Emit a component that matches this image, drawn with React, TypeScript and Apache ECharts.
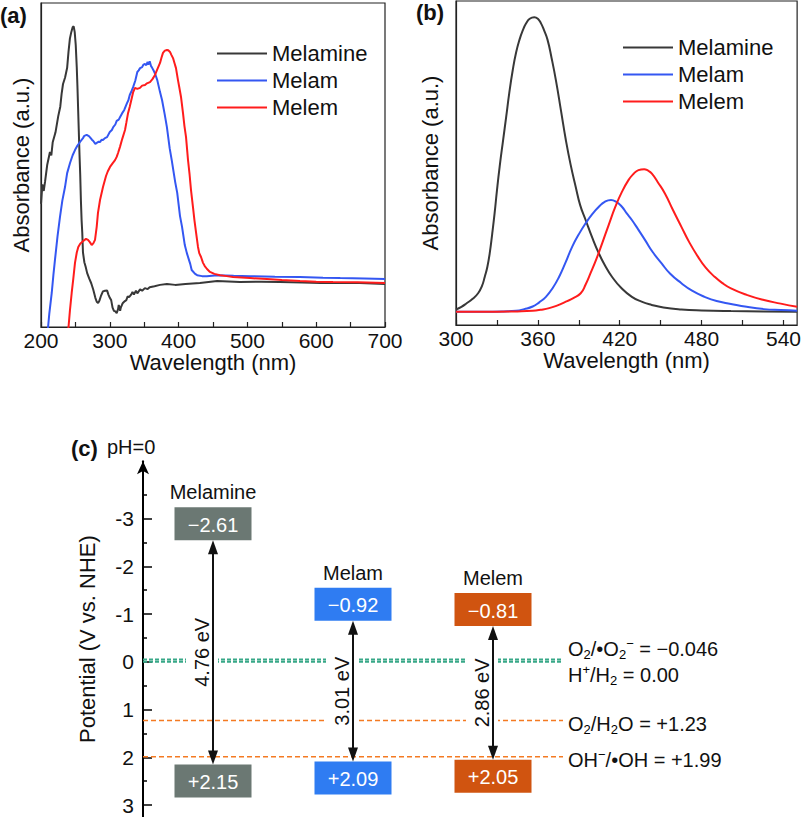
import React, { useEffect, useRef } from 'react';
import * as echarts from 'echarts';

const FONT = '"Liberation Sans", Arial, Helvetica, sans-serif';

// ---------- (a) UV-Vis absorbance (wavelength nm, absorbance a.u.) ----------
const absMelamineA: [number, number][] = [
  [200, 0.38], [202, 0.44], [204, 0.42], [206, 0.45], [209, 0.5], [213, 0.54], [215, 0.53], [217, 0.57],
  [221, 0.6], [225, 0.65], [228, 0.68], [230, 0.72], [232, 0.75], [235, 0.77], [238, 0.8], [240, 0.85],
  [242, 0.89], [244, 0.91], [246, 0.925], [247.5, 0.928], [249, 0.91], [250.5, 0.87], [252, 0.8], [253, 0.74],
  [254, 0.67], [255, 0.6], [256, 0.53], [257, 0.47], [258, 0.39], [259, 0.33], [260, 0.29], [261, 0.23],
  [263, 0.2], [265, 0.185], [267, 0.167], [270, 0.15], [273, 0.135], [276, 0.115], [279, 0.09], [281, 0.078],
  [283, 0.074], [285, 0.082], [287, 0.095], [290, 0.11], [293, 0.112], [296, 0.113], [298, 0.1], [300, 0.09],
  [302, 0.083], [304, 0.06], [306, 0.05], [308, 0.048], [310, 0.043], [312, 0.055], [313, 0.068], [315, 0.05],
  [316, 0.06], [318, 0.07], [319, 0.074], [322, 0.08], [324, 0.083], [326, 0.095], [328, 0.092], [331, 0.1],
  [333, 0.108], [335, 0.1], [338, 0.112], [340, 0.104], [344, 0.116], [347, 0.112], [351, 0.12], [355, 0.117],
  [358, 0.123], [365, 0.126], [373, 0.13], [383, 0.133], [395, 0.13], [410, 0.133], [431, 0.136], [456, 0.142],
  [489, 0.139], [520, 0.14], [547, 0.139], [580, 0.137], [606, 0.136], [640, 0.136], [663, 0.136], [700, 0.133],
];
const absMelamA: [number, number][] = [
  [209, -0.03], [212, 0.04], [215.6, 0.105], [218, 0.16], [220.3, 0.207], [224, 0.28], [227.6, 0.34], [231, 0.39],
  [234.9, 0.432], [238, 0.475], [242.2, 0.506], [246, 0.53], [249.4, 0.546], [253, 0.56], [256.7, 0.571], [261, 0.583],
  [263, 0.59], [266.4, 0.593], [269, 0.59], [271, 0.586], [274, 0.578], [276, 0.574], [279, 0.565], [281, 0.568],
  [284, 0.572], [286, 0.571], [288, 0.578], [290, 0.577], [293, 0.583], [296, 0.586], [300, 0.602], [303, 0.608],
  [305, 0.617], [308, 0.625], [310, 0.636], [313, 0.64], [315, 0.648], [318, 0.66], [321, 0.67], [325, 0.691],
  [327, 0.7], [329, 0.716], [332, 0.73], [334, 0.741], [337, 0.76], [340, 0.787], [342, 0.792], [344, 0.799],
  [347, 0.802], [349, 0.81], [351, 0.812], [353, 0.808], [355, 0.818], [356, 0.81], [358, 0.82], [360, 0.805],
  [361, 0.802], [364, 0.79], [366, 0.781], [369, 0.762], [373, 0.725], [376, 0.7], [380, 0.654], [383, 0.617],
  [387, 0.552], [390, 0.515], [395, 0.448], [398, 0.414], [402, 0.343], [405, 0.309], [409, 0.253], [412, 0.228],
  [417, 0.194], [419, 0.176], [424, 0.164], [427, 0.16], [434, 0.157], [441, 0.157], [456, 0.16], [480, 0.158],
  [504, 0.157], [540, 0.155], [576, 0.154], [610, 0.152], [635, 0.151], [670, 0.15], [700, 0.148],
];
const absMelemA: [number, number][] = [
  [239, -0.02], [240, 0], [242, 0.05], [244.6, 0.105], [247, 0.15], [249.4, 0.198], [252, 0.23], [254.2, 0.247],
  [257, 0.257], [261, 0.265], [265.4, 0.272], [268.3, 0.269], [271, 0.262], [273.7, 0.253], [276, 0.258], [278.5, 0.269],
  [281, 0.31], [282.8, 0.352], [285.8, 0.392], [290.1, 0.432], [294.5, 0.466], [297, 0.48], [300.3, 0.494], [304, 0.505],
  [307.6, 0.515], [310, 0.525], [312, 0.537], [314.8, 0.556], [318, 0.58], [322.1, 0.608], [324, 0.63], [326.5, 0.66],
  [329, 0.68], [332.3, 0.71], [334, 0.725], [336.6, 0.738], [340, 0.735], [343.9, 0.738], [347, 0.745], [351.2, 0.747],
  [354, 0.752], [358.4, 0.756], [362, 0.765], [365.7, 0.778], [369, 0.795], [373, 0.815], [375, 0.83], [377.3, 0.846],
  [380, 0.853], [383.1, 0.855], [385, 0.854], [387.5, 0.849], [389.5, 0.84], [391.9, 0.83], [394, 0.815], [396.2, 0.799],
  [399.1, 0.762], [401, 0.74], [403.5, 0.71], [406.4, 0.66], [408.5, 0.62], [410.8, 0.586], [413.7, 0.515], [416, 0.47],
  [418, 0.423], [420.9, 0.37], [423, 0.33], [425.3, 0.293], [428.2, 0.247], [430, 0.228], [432.6, 0.216], [435.5, 0.198],
  [438, 0.188], [441.3, 0.179], [445.6, 0.17], [452, 0.164], [460.2, 0.16], [470, 0.157], [479.1, 0.154], [503.8, 0.151],
  [528.5, 0.148], [550, 0.145], [576.5, 0.142], [600, 0.14], [624.4, 0.139], [660, 0.138], [700, 0.136],
];

// ---------- (b) absorbance (wavelength nm, a.u.) ----------
const absMelamineB: [number, number][] = [
  [300, 0.048], [304, 0.056], [307.8, 0.067], [312, 0.08], [316.2, 0.098], [319, 0.12], [321.1, 0.149], [323, 0.18],
  [324.7, 0.221], [326.5, 0.28], [328.3, 0.345], [330, 0.415], [332, 0.489], [334.5, 0.57], [336.8, 0.643], [339, 0.715],
  [341.6, 0.787], [344, 0.84], [346.5, 0.88], [349, 0.91], [351.4, 0.931], [354, 0.945], [357.4, 0.95], [360, 0.945],
  [362.3, 0.931], [364.5, 0.91], [367.1, 0.88], [370, 0.825], [373.2, 0.756], [377, 0.66], [380.5, 0.571], [384, 0.495],
  [387.7, 0.427], [391, 0.37], [395, 0.324], [400, 0.268], [404.7, 0.221], [409, 0.185], [414.3, 0.149], [421, 0.115],
  [428.9, 0.087], [436, 0.072], [443.4, 0.062], [452, 0.054], [465.2, 0.048], [480, 0.045], [501.5, 0.043], [525, 0.042],
  [550, 0.041],
];
const absMelamB: [number, number][] = [
  [300, 0.041], [320, 0.041], [335, 0.042], [344, 0.044], [350, 0.049], [356.2, 0.057], [361, 0.07], [365.9, 0.087],
  [371, 0.115], [375.6, 0.149], [380, 0.19], [385.2, 0.242], [390, 0.28], [395, 0.314], [400, 0.343], [404.7, 0.365],
  [409, 0.38], [413.6, 0.386], [417.5, 0.38], [421.6, 0.365], [425, 0.345], [428.9, 0.324], [433.5, 0.295], [438.6, 0.262],
  [444, 0.226], [450.7, 0.19], [457, 0.158], [465.2, 0.129], [473, 0.106], [482.2, 0.087], [491, 0.074], [501.5, 0.065],
  [513, 0.056], [525.7, 0.049], [538, 0.046], [550, 0.044],
];
const absMelemB: [number, number][] = [
  [300, 0.041], [330, 0.041], [345, 0.042], [356.2, 0.044], [362, 0.047], [368.3, 0.052], [374, 0.06], [380.5, 0.072],
  [386, 0.083], [391.4, 0.098], [395, 0.125], [398.6, 0.16], [403, 0.205], [407.1, 0.252], [412, 0.31], [416.8, 0.365],
  [421.5, 0.41], [426.5, 0.448], [430, 0.466], [433.7, 0.478], [437.9, 0.481], [440.5, 0.477], [443.4, 0.468], [448, 0.44],
  [453.1, 0.406], [459, 0.355], [465.2, 0.303], [471, 0.255], [477.3, 0.211], [483, 0.177], [489.5, 0.149], [495, 0.13],
  [501.5, 0.113], [513, 0.093], [525.7, 0.077], [538, 0.066], [550, 0.056],
];

const seriesNames = ['Melamine', 'Melam', 'Melem'];
const ticksA = [200, 250, 300, 350, 400, 450, 500, 550, 600, 650, 700];
const labelsA = [200, 300, 400, 500, 600, 700];
const ticksB = [300, 330, 360, 390, 420, 450, 480, 510, 540];
const labelsB = [300, 360, 420, 480, 540];

// ---------- (c) band positions ----------
const materials = ['Melamine', 'Melam', 'Melem'];
const cbPotential = [-2.61, -0.92, -0.81];
const vbPotential = [2.15, 2.09, 2.05];
const bandGapEV = [4.76, 3.01, 2.86];
const redoxCouples = ['O{s|2}/•O{s|2}{p|−}', 'H{p|+}/H{s|2}', 'O{s|2}/H{s|2}O', 'OH{p|−}/•OH'];
const redoxPotential = [-0.046, 0, 1.23, 1.99];
const redoxDecimals = [3, 2, 2, 2];
const potentialTicks = [-3, -2, -1, 0, 1, 2, 3];
const potentialMinorTicks = [-3.5, -2.5, -1.5, -0.5, 0.5, 1.5, 2.5];

// ---------- styles ----------
const lineColors = ['#383838', '#3457f2', '#ff1c1c'];
const boxColors = ['#6b7873', '#2f7cf2', '#d05410'];
const redoxColors = ['#38a888', '#38a888', '#f47a22', '#f47a22'];
const redoxWidths = [2, 2, 1.6, 1.6];
const redoxDashes = [[4, 2], [4, 2], [5, 3], [5, 3]];
const redoxLabelDy = [-11, 13, 3, 3];

const signed = (v: number, d: number) =>
  v < 0 ? '−' + Math.abs(v).toFixed(d) : v > 0 ? '+' + v.toFixed(d) : v.toFixed(d);

const richSubSup = {
  s: { fontSize: 13, lineHeight: 14, verticalAlign: 'bottom', fontFamily: FONT, fill: '#000', color: '#000' },
  p: { fontSize: 13, lineHeight: 14, verticalAlign: 'top', fontFamily: FONT, fill: '#000', color: '#000' },
};

export default function App() {
  const ref = useRef<HTMLDivElement>(null);
  useEffect(() => {
    if (!ref.current) return;
    const chart = echarts.init(ref.current, undefined, { renderer: 'svg' });

    const frameAxisX = (gi: number, min: number, max: number, ticks: number[], labels: number[]) => ({
      gridIndex: gi,
      type: 'value',
      min,
      max,
      name: 'Wavelength (nm)',
      nameLocation: 'middle',
      nameGap: 22,
      nameTextStyle: { fontSize: 22, color: '#111', fontFamily: FONT },
      axisLine: { show: true, lineStyle: { color: '#222', width: 1.2 } },
      axisTick: { show: true, inside: true, length: 5, customValues: ticks, lineStyle: { color: '#222', width: 1.2 } },
      axisLabel: { customValues: labels, fontSize: 21, color: '#111', margin: 3, fontFamily: FONT },
      splitLine: { show: false },
    });
    const frameAxisY = (gi: number, gap: number) => ({
      gridIndex: gi,
      type: 'value',
      min: 0,
      max: 1,
      name: 'Absorbance (a.u.)',
      nameLocation: 'middle',
      nameGap: gap,
      nameTextStyle: { fontSize: 22, color: '#111', fontFamily: FONT },
      axisLine: { show: true, lineStyle: { color: '#222', width: 1.2 } },
      axisTick: { show: false },
      axisLabel: { show: false },
      splitLine: { show: false },
    });

    const lineSeries = (name: string, data: [number, number][], gi: number, color: string, smooth: boolean) => ({
      type: 'line',
      name,
      data,
      xAxisIndex: gi,
      yAxisIndex: gi,
      symbol: 'none',
      showSymbol: false,
      smooth,
      clip: true,
      lineStyle: { color, width: 2 },
      itemStyle: { color },
    });

    const legendBase = {
      orient: 'vertical',
      padding: 0,
      icon: 'rect',
      itemWidth: 50,
      itemHeight: 2,
      itemGap: 4,
      selectedMode: false,
      data: seriesNames,
      textStyle: { fontSize: 22, color: '#111', fontFamily: FONT, lineHeight: 23 },
    };

    const option: any = {
      animation: false,
      backgroundColor: '#fff',
      textStyle: { fontFamily: FONT },
      grid: [
        { left: 41, top: 3, width: 344, height: 324, show: true, borderColor: '#222', borderWidth: 1.2 },
        { left: 456, top: 1, width: 344, height: 324, show: true, borderColor: '#222', borderWidth: 1.2 },
        { left: 143, top: 461.2, width: 420, height: 356.2 },
      ],
      xAxis: [
        frameAxisX(0, 200, 700, ticksA, labelsA),
        frameAxisX(1, 300, 550, ticksB, labelsB),
        { gridIndex: 2, type: 'category', data: materials, show: false, boundaryGap: true },
      ],
      yAxis: [
        frameAxisY(0, 9),
        frameAxisY(1, 15),
        {
          gridIndex: 2,
          type: 'value',
          position: 'left',
          inverse: true,
          min: -4.2,
          max: 3.25,
          name: 'Potential (V vs. NHE)',
          nameLocation: 'middle',
          nameGap: 45,
          nameTextStyle: { fontSize: 22, color: '#111', fontFamily: FONT },
          axisLine: { show: true, onZero: false, lineStyle: { color: '#000', width: 2 }, symbol: ['none', 'arrow'], symbolSize: [9, 13] },
          axisTick: { show: true, inside: true, length: 9, customValues: potentialTicks, lineStyle: { color: '#000', width: 1.5 } },
          axisLabel: { customValues: potentialTicks, fontSize: 21, color: '#111', margin: 9, fontFamily: FONT },
          splitLine: { show: false },
        },
        {
          gridIndex: 2,
          type: 'value',
          position: 'left',
          inverse: true,
          min: -4.2,
          max: 3.25,
          axisLine: { show: false, onZero: false },
          axisTick: { show: true, inside: true, length: 4, customValues: potentialMinorTicks, lineStyle: { color: '#000', width: 1.5 } },
          axisLabel: { show: false },
          splitLine: { show: false },
        },
      ],
      legend: [
        { ...legendBase, left: 217, top: 42 },
        { ...legendBase, left: 623, top: 36 },
      ],
      graphic: [
        { type: 'text', x: 0, y: 15, style: { text: '(a)', font: `bold 22px ${FONT}`, fill: '#111', textVerticalAlign: 'middle', verticalAlign: 'middle' } },
        { type: 'text', x: 416, y: 12, style: { text: '(b)', font: `bold 22px ${FONT}`, fill: '#111', textVerticalAlign: 'middle', verticalAlign: 'middle' } },
        { type: 'text', x: 71, y: 448, style: { text: '(c)', font: `bold 22px ${FONT}`, fill: '#111', textVerticalAlign: 'middle', verticalAlign: 'middle' } },
        { type: 'text', x: 107, y: 447, style: { text: 'pH=0', font: `20px ${FONT}`, fill: '#111', textVerticalAlign: 'middle', verticalAlign: 'middle' } },
      ],
      series: [
        lineSeries('Melamine', absMelamineA, 0, lineColors[0], false),
        lineSeries('Melam', absMelamA, 0, lineColors[1], false),
        lineSeries('Melem', absMelemA, 0, lineColors[2], false),
        lineSeries('Melamine', absMelamineB, 1, lineColors[0], true),
        lineSeries('Melam', absMelamB, 1, lineColors[1], true),
        lineSeries('Melem', absMelemB, 1, lineColors[2], true),
        {
          type: 'custom',
          name: 'redox',
          xAxisIndex: 2,
          yAxisIndex: 2,
          z: 1,
          clip: false,
          data: redoxPotential.map((p) => [0, p]),
          encode: { x: 0, y: 1 },
          renderItem: (params: any, api: any) => {
            const i = params.dataIndex;
            const pot = api.value(1);
            const y = api.coord([0, pot])[1];
            const cs = params.coordSys;
            const x0 = cs.x;
            const x1 = cs.x + cs.width;
            return {
              type: 'group',
              children: [
                {
                  type: 'line',
                  shape: { x1: x0, y1: y, x2: x1, y2: y },
                  style: { stroke: redoxColors[i], lineWidth: redoxWidths[i], lineDash: redoxDashes[i] },
                },
                {
                  type: 'text',
                  x: x1 + 5,
                  y: y + redoxLabelDy[i],
                  style: {
                    text: redoxCouples[i] + ' = ' + signed(redoxPotential[i], redoxDecimals[i]),
                    rich: richSubSup,
                    fontSize: 20,
                    lineHeight: 24,
                    fontFamily: FONT,
                    fill: '#111',
                    align: 'left',
                    textAlign: 'left',
                    verticalAlign: 'middle',
                    textVerticalAlign: 'middle',
                  },
                },
              ],
            };
          },
        },
        {
          type: 'custom',
          name: 'bands',
          xAxisIndex: 2,
          yAxisIndex: 2,
          z: 3,
          clip: false,
          data: materials.map((m, i) => [i, cbPotential[i], vbPotential[i], bandGapEV[i]]),
          encode: { x: 0, y: [1, 2] },
          renderItem: (params: any, api: any) => {
            const i = params.dataIndex;
            const cb = api.value(1);
            const vb = api.value(2);
            const eg = api.value(3);
            const [cx, cbY] = api.coord([i, cb]);
            const vbY = api.coord([i, vb])[1];
            const bw = api.size([1, 0])[0] * 0.55;
            const h = 33;
            const top1 = cbY - 30;
            const bot1 = cbY + 3;
            const mid = (bot1 + vbY) / 2;
            const color = boxColors[i];
            const txt = (text: string, x: number, y: number, fill: string) => ({
              type: 'text',
              x,
              y,
              style: {
                text,
                fontSize: 20,
                fontFamily: FONT,
                fill,
                align: 'center',
                textAlign: 'center',
                verticalAlign: 'middle',
                textVerticalAlign: 'middle',
              },
            });
            return {
              type: 'group',
              children: [
                {
                  type: 'text',
                  x: cx - 11,
                  y: mid,
                  rotation: Math.PI / 2,
                  style: {
                    text: eg.toFixed(2) + ' eV',
                    fontSize: 20,
                    fontFamily: FONT,
                    fill: '#111',
                    align: 'center',
                    textAlign: 'center',
                    verticalAlign: 'middle',
                    textVerticalAlign: 'middle',
                    backgroundColor: '#fff',
                    padding: [6, 3],
                  },
                },
                { type: 'rect', shape: { x: cx - bw / 2, y: top1, width: bw, height: h }, style: { fill: color } },
                txt(signed(cb, 2), cx, top1 + h / 2 + 1, '#fff'),
                { type: 'rect', shape: { x: cx - bw / 2, y: vbY, width: bw, height: h }, style: { fill: color } },
                txt(signed(vb, 2), cx, vbY + h / 2 + 1, '#fff'),
                txt(materials[i], cx, top1 - 15, '#111'),
                { type: 'line', shape: { x1: cx, y1: bot1 + 10, x2: cx, y2: vbY - 10 }, style: { stroke: '#111', lineWidth: 2 } },
                { type: 'polygon', shape: { points: [[cx, bot1], [cx - 5, bot1 + 14], [cx + 5, bot1 + 14]] }, style: { fill: '#111' } },
                { type: 'polygon', shape: { points: [[cx, vbY], [cx - 5, vbY - 14], [cx + 5, vbY - 14]] }, style: { fill: '#111' } },
              ],
            };
          },
        },
      ],
    };

    chart.setOption(option);
    return () => chart.dispose();
  }, []);

  return (
    <div
      ref={ref}
      style={{ position: 'absolute', left: 0, top: 0, width: 804, height: 817, background: '#fff' }}
    />
  );
}
